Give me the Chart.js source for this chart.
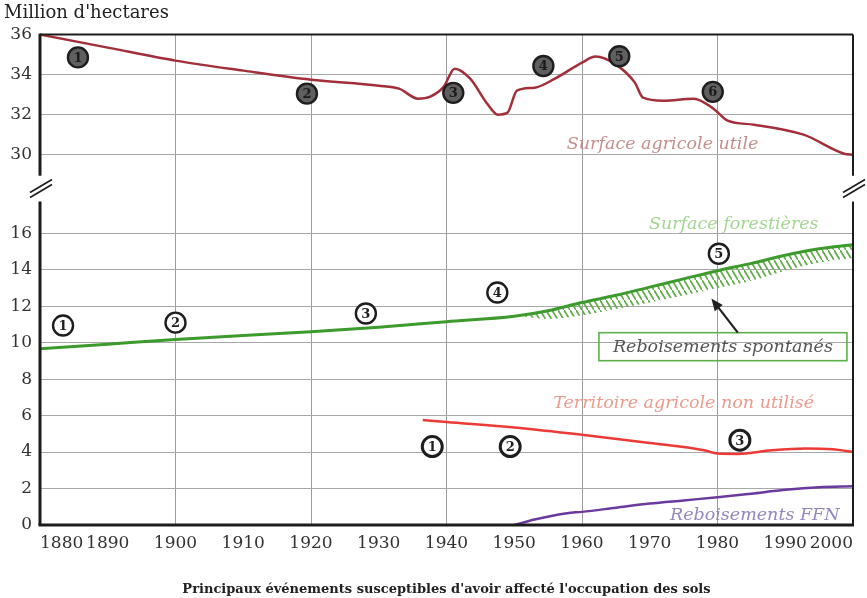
<!DOCTYPE html>
<html>
<head>
<meta charset="utf-8">
<script src="https://cdn.jsdelivr.net/npm/chart.js@4.4.1/dist/chart.umd.min.js"></script>
<style>
  html, body { margin: 0; padding: 0; background: #fff; }
</style>
</head>
<body>
<canvas id="chart" width="867" height="598"></canvas>
<script>
// Surface agricole utile (upper panel, million ha)
const sauYears  = [1880, 1890, 1900, 1910, 1920, 1930, 1933, 1935.8, 1937.6, 1939.6, 1941.2, 1943.5, 1945.9, 1947.6, 1949, 1950.4, 1953, 1956, 1960, 1962, 1965, 1967.8, 1969, 1972, 1976.5, 1979.4, 1981.5, 1985.4, 1992.7, 1998.7, 2000];
const sauValues = [36, 35.35, 34.7, 34.2, 33.75, 33.45, 33.3, 32.8, 32.9, 33.4, 34.3, 33.8, 32.6, 32.0, 32.1, 33.2, 33.35, 33.8, 34.6, 34.9, 34.5, 33.6, 32.85, 32.7, 32.8, 32.3, 31.7, 31.5, 31.0, 30.05, 30.0];

// Surface forestieres
const forestYears  = [1880, 1890, 1900, 1910, 1920, 1930, 1940, 1950, 1955, 1960, 1965, 1970, 1975, 1980, 1985, 1990, 1995, 2000];
const forestValues = [9.67, 9.92, 10.17, 10.4, 10.6, 10.85, 11.15, 11.45, 11.75, 12.2, 12.6, 13.05, 13.5, 13.95, 14.35, 14.8, 15.15, 15.37];

// lower edge of the hatched "reboisements spontanés" band
const hatchYears  = [1951, 1955, 1960, 1965, 1970, 1975, 1980, 1985, 1990, 1995, 2000];
const hatchValues = [11.45, 11.3, 11.5, 11.85, 12.2, 12.6, 13.0, 13.4, 13.95, 14.4, 14.65];

// Territoire agricole non utilise
const tanuYears  = [1936.5, 1940, 1950, 1960, 1970, 1978, 1980, 1983, 1988, 1993, 1997, 2000];
const tanuValues = [5.76, 5.65, 5.35, 4.95, 4.5, 4.1, 3.92, 3.9, 4.1, 4.2, 4.15, 4.0];

// Reboisements FFN
const ffnYears  = [1950, 1953, 1957.8, 1960, 1965, 1970, 1975, 1980, 1985, 1990, 1995, 2000];
const ffnValues = [0, 0.3, 0.65, 0.72, 0.95, 1.18, 1.35, 1.52, 1.72, 1.93, 2.07, 2.12];

const yearTicks   = [1880, 1890, 1900, 1910, 1920, 1930, 1940, 1950, 1960, 1970, 1980, 1990, 2000];
const upperTicks  = [30, 32, 34, 36];
const lowerTicks  = [0, 2, 4, 6, 8, 10, 12, 14, 16];

const serif = "'DejaVu Serif', serif";
const pts = (xs, ys) => xs.map((x, i) => ({ x: x, y: ys[i] }));

function hatchPattern() {
  const c = document.createElement('canvas');
  c.width = 6; c.height = 10;
  const g = c.getContext('2d');
  g.strokeStyle = '#62ab4a';
  g.lineWidth = 1.7;
  g.beginPath();
  g.moveTo(-1, -10 / 6); g.lineTo(7, 10 + 10 / 6);
  g.stroke();
  return g.createPattern(c, 'repeat');
}

// circled event numbers, placed in data units
const markers = [
  { axis: 'yTop', x: 1885.6, y: 34.86, n: '1', dark: true },
  { axis: 'yTop', x: 1919.4, y: 33.05, n: '2', dark: true },
  { axis: 'yTop', x: 1941.0, y: 33.09, n: '3', dark: true },
  { axis: 'yTop', x: 1954.3, y: 34.43, n: '4', dark: true },
  { axis: 'yTop', x: 1965.5, y: 34.92, n: '5', dark: true },
  { axis: 'yTop', x: 1979.3, y: 33.14, n: '6', dark: true },
  { axis: 'yBot', x: 1883.4, y: 10.94, n: '1' },
  { axis: 'yBot', x: 1900.0, y: 11.1, n: '2' },
  { axis: 'yBot', x: 1928.1, y: 11.6, n: '3' },
  { axis: 'yBot', x: 1947.5, y: 12.75, n: '4' },
  { axis: 'yBot', x: 1980.2, y: 14.88, n: '5' },
  { axis: 'yBot', x: 1937.9, y: 4.3, n: '1', thick: true },
  { axis: 'yBot', x: 1949.4, y: 4.3, n: '2', thick: true },
  { axis: 'yBot', x: 1983.3, y: 4.65, n: '3', thick: true }
];

const seriesLabels = [
  { axis: 'yTop', x: 1971.9, y: 30.53, text: 'Surface agricole utile', color: '#c48e8a' },
  { axis: 'yBot', x: 1982.4, y: 16.49, text: 'Surface forestières', color: '#a3d692' },
  { axis: 'yBot', x: 1975.0, y: 6.68, text: 'Territoire agricole non utilisé', color: '#ec9a8c' },
  { axis: 'yBot', x: 1985.5, y: 0.54, text: 'Reboisements FFN', color: '#9486bd' }
];

const overlay = {
  id: 'overlay',
  afterDatasetsDraw(chart) {
    const { ctx, chartArea: a, scales } = chart;
    const x = scales.x, yTop = scales.yTop, yBot = scales.yBot;
    const line = (x1, y1, x2, y2) => { ctx.beginPath(); ctx.moveTo(x1, y1); ctx.lineTo(x2, y2); ctx.stroke(); };
    ctx.save();

    // frame with the axis break
    const topEnd = yTop.getPixelForValue(28.95);
    const botStart = yBot.getPixelForValue(17.75);
    const mid = (topEnd + botStart) / 2;
    ctx.strokeStyle = '#1c1c1c';
    ctx.lineWidth = 2;
    line(a.left, a.top, a.right, a.top);
    line(a.right, a.top, a.right, topEnd);
    line(a.right, botStart, a.right, a.bottom);
    ctx.lineWidth = 3;
    line(a.left, a.top - 1, a.left, topEnd);
    line(a.left, botStart, a.left, a.bottom);
    line(a.left - 1.5, a.bottom, a.right + 1, a.bottom);
    ctx.lineWidth = 1.6;
    [a.left + 2, a.right + 2].forEach(cx => {
      line(cx - 12, mid + 4, cx + 10, mid - 9);
      line(cx - 12, mid + 9, cx + 10, mid - 4);
    });

    // series names
    ctx.textAlign = 'center';
    ctx.textBaseline = 'middle';
    ctx.font = 'italic 17.5px ' + serif;
    seriesLabels.forEach(l => {
      ctx.fillStyle = l.color;
      ctx.fillText(l.text, x.getPixelForValue(l.x), scales[l.axis].getPixelForValue(l.y));
    });

    // boxed label + arrow
    const bx = x.getPixelForValue(1980.8), by = yBot.getPixelForValue(9.78);
    ctx.strokeStyle = '#5cb04a';
    ctx.lineWidth = 1.6;
    ctx.strokeRect(bx - 124, by - 14, 248, 28);
    ctx.fillStyle = '#555';
    ctx.font = 'italic 17.5px ' + serif;
    ctx.fillText('Reboisements spontanés', bx, by + 1);
    const ax = x.getPixelForValue(1983), ay = by - 14;
    const tx = x.getPixelForValue(1979.1), ty = yBot.getPixelForValue(12.42);
    const ang = Math.atan2(ty - ay, tx - ax);
    ctx.strokeStyle = '#222';
    ctx.fillStyle = '#222';
    ctx.lineWidth = 2.2;
    line(ax, ay, tx - 8 * Math.cos(ang), ty - 8 * Math.sin(ang));
    ctx.beginPath();
    ctx.moveTo(tx, ty);
    ctx.lineTo(tx - 13 * Math.cos(ang - 0.4), ty - 13 * Math.sin(ang - 0.4));
    ctx.lineTo(tx - 13 * Math.cos(ang + 0.4), ty - 13 * Math.sin(ang + 0.4));
    ctx.closePath();
    ctx.fill();

    // circled numbers
    markers.forEach(m => {
      const px = x.getPixelForValue(m.x), py = scales[m.axis].getPixelForValue(m.y);
      ctx.beginPath();
      ctx.arc(px, py, 10, 0, Math.PI * 2);
      ctx.fillStyle = m.dark ? '#5f5f5f' : '#fff';
      ctx.fill();
      ctx.lineWidth = m.thick ? 3 : 2.4;
      ctx.strokeStyle = '#1e1e1e';
      ctx.stroke();
      ctx.fillStyle = m.dark ? '#1a1a1a' : '#1e1e1e';
      ctx.font = 'bold 13px ' + serif;
      ctx.fillText(m.n, px, py + 1);
    });
    ctx.restore();
  }
};

const lineStyle = { pointRadius: 0, cubicInterpolationMode: 'monotone', fill: false };

new Chart(document.getElementById('chart'), {
  type: 'line',
  data: {
    datasets: [
      { ...lineStyle, label: 'Surface agricole utile', data: pts(sauYears, sauValues), yAxisID: 'yTop', borderColor: '#a22f3a', borderWidth: 2.5 },
      { ...lineStyle, label: 'Surface forestières', data: pts(forestYears, forestValues), yAxisID: 'yBot', borderColor: '#3d9a2c', borderWidth: 3 },
      { ...lineStyle, label: 'Reboisements spontanés', data: pts(hatchYears, hatchValues), yAxisID: 'yBot', borderWidth: 0, borderColor: 'transparent', backgroundColor: hatchPattern(), fill: { target: 1 } },
      { ...lineStyle, label: 'Territoire agricole non utilisé', data: pts(tanuYears, tanuValues), yAxisID: 'yBot', borderColor: '#ec3b36', borderWidth: 2.5 },
      { ...lineStyle, label: 'Reboisements FFN', data: pts(ffnYears, ffnValues), yAxisID: 'yBot', borderColor: '#6b3a9e', borderWidth: 2.5 }
    ]
  },
  options: {
    responsive: false,
    animation: false,
    layout: { padding: { left: 4, right: 14, top: 0, bottom: 0 } },
    plugins: {
      legend: { display: false },
      tooltip: { enabled: false },
      title: {
        display: true,
        text: "Million d'hectares",
        align: 'start',
        color: '#222',
        font: { family: serif, size: 18, weight: 'normal' },
        padding: { top: 3, bottom: 10 }
      }
    },
    scales: {
      x: {
        type: 'linear',
        min: 1880,
        max: 2000,
        afterBuildTicks: axis => { axis.ticks = yearTicks.map(v => ({ value: v })); },
        ticks: { align: 'inner', color: '#333', font: { family: serif, size: 17 }, padding: 8, callback: v => String(v) },
        grid: {
          drawTicks: false,
          color: ctx => (ctx.tick && ctx.tick.value % 20 === 0 && ctx.tick.value > 1880 && ctx.tick.value < 2000) ? '#9d9d9d' : 'transparent'
        },
        border: { display: false },
        title: {
          display: true,
          text: "Principaux événements susceptibles d'avoir affecté l'occupation des sols",
          color: '#222',
          font: { family: serif, size: 13, weight: 'bold' },
          padding: { top: 20, bottom: 1 }
        }
      },
      // stacked y axes: the later one sits on top
      yBot: {
        type: 'linear',
        position: 'left',
        stack: 'y',
        stackWeight: 337,
        min: 0,
        max: 18.5,
        afterBuildTicks: axis => { axis.ticks = lowerTicks.map(v => ({ value: v })); },
        afterFit: axis => { axis.width = 36; },
        ticks: { color: '#333', font: { family: serif, size: 17 }, padding: 8, callback: v => String(v) },
        grid: { drawTicks: false, color: ctx => (ctx.tick && ctx.tick.value === 0) ? 'transparent' : '#a8a8a8' },
        border: { display: false }
      },
      yTop: {
        type: 'linear',
        position: 'left',
        stack: 'y',
        stackWeight: 153,
        min: 28.35,
        max: 36,
        afterBuildTicks: axis => { axis.ticks = upperTicks.map(v => ({ value: v })); },
        afterFit: axis => { axis.width = 36; },
        ticks: { color: '#333', font: { family: serif, size: 17 }, padding: 8, callback: v => String(v) },
        grid: { drawTicks: false, color: ctx => (ctx.tick && ctx.tick.value === 36) ? 'transparent' : '#a8a8a8' },
        border: { display: false }
      }
    }
  },
  plugins: [overlay]
});
</script>
</body>
</html>
